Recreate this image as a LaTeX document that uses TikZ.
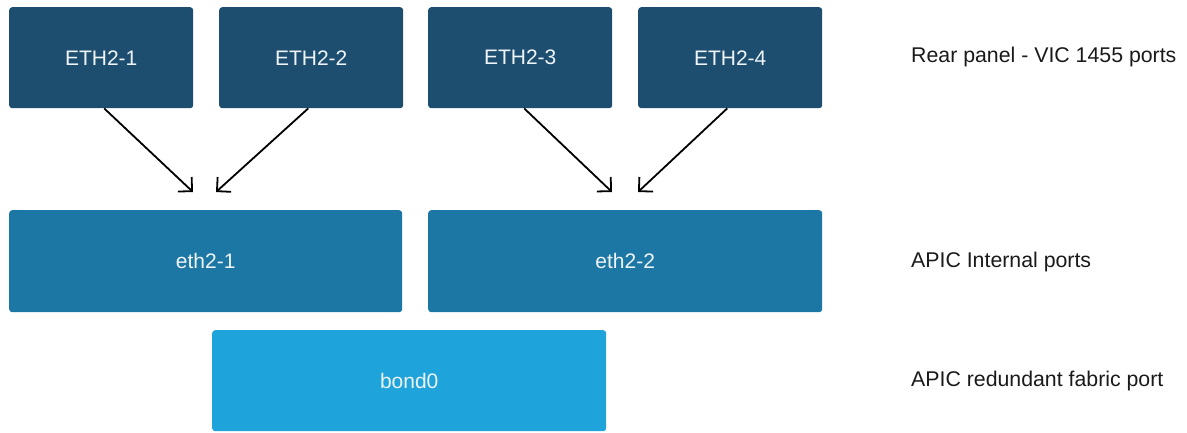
\documentclass[tikz,border=0pt]{standalone}
\usepackage{fontspec}
\setmainfont{Liberation Sans}
\usetikzlibrary{arrows.meta}
\definecolor{topblue}{HTML}{1D4E6F}
\definecolor{midblue}{HTML}{1D77A4}
\definecolor{lightblue}{HTML}{1FA3DB}
\definecolor{boxtext}{HTML}{EEF4F8}
\definecolor{labeltext}{HTML}{1A1A1A}
\tikzset{
  portbox/.style={rectangle, rounded corners=3pt, inner sep=0pt, text=boxtext,
    font=\fontsize{21}{25}\selectfont, anchor=north west},
  rowlabel/.style={anchor=west, inner sep=0pt, text=labeltext,
    font=\fontsize{21.3}{25}\selectfont},
  link/.style={draw=black, line width=1.8pt, -{Straight Barb[length=10pt,width=20pt,line width=1.8pt]}}
}
\begin{document}
\begin{tikzpicture}[x=1pt,y=-1pt]
\useasboundingbox (0,0) rectangle (1187,432);
% top row
\node[portbox, fill=topblue, minimum width=184pt, minimum height=101pt] (e1) at (9,7) {ETH2-1};
\node[portbox, fill=topblue, minimum width=184pt, minimum height=101pt] (e2) at (219,7) {ETH2-2};
\node[portbox, fill=topblue, minimum width=184pt, minimum height=101pt] (e3) at (428,7) {ETH2-3};
\node[portbox, fill=topblue, minimum width=184pt, minimum height=101pt] (e4) at (638,7) {ETH2-4};
% middle row
\node[portbox, fill=midblue, minimum width=393pt, minimum height=102pt] (i1) at (9,210) {eth2-1};
\node[portbox, fill=midblue, minimum width=394pt, minimum height=102pt] (i2) at (428,210) {eth2-2};
% bottom
\node[portbox, fill=lightblue, minimum width=394pt, minimum height=101pt] (b0) at (212,330) {bond0};
% labels
\node[rowlabel] (l1) at (911,57) {Rear panel - VIC 1455 ports};
\node[rowlabel] (l2) at (911,262) {APIC Internal ports};
\node[rowlabel] (l3) at (911,381) {APIC redundant fabric port};
% arrow targets
\coordinate (t1) at (193,192);
\coordinate (t2) at (216,192);
\coordinate (t3) at (612,192);
\coordinate (t4) at (638,192);
\draw[link] ([xshift=3pt]e1.south) -- (t1);
\draw[link] ([xshift=-3pt]e2.south) -- (t2);
\draw[link] ([xshift=4pt]e3.south) -- (t3);
\draw[link] ([xshift=-3pt]e4.south) -- (t4);
\end{tikzpicture}
\end{document}
